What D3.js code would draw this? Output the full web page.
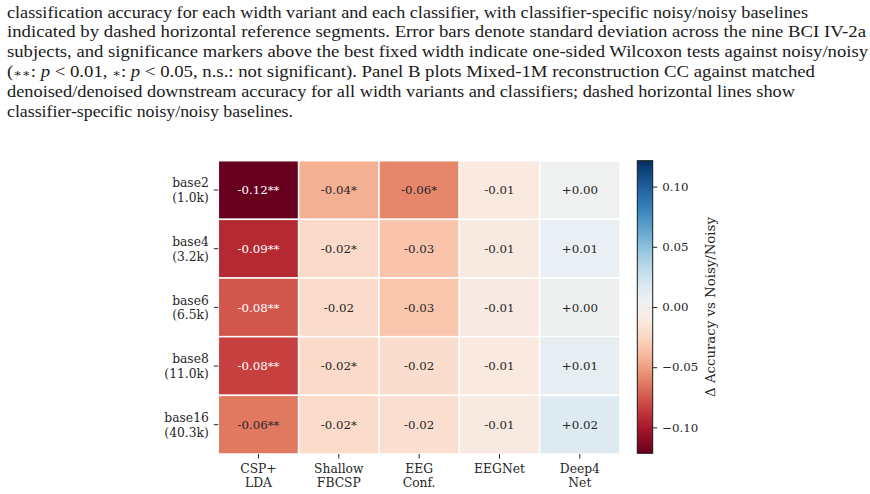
<!DOCTYPE html>
<html>
<head>
<meta charset="utf-8">
<script src="https://cdn.jsdelivr.net/npm/d3@7"></script>
<style>
  body { margin: 0; background: #fff; }
  svg { display: block; }
</style>
</head>
<body>
<script>
// rows = width variants, columns = classifiers
var widths = ["base2", "base4", "base6", "base8", "base16"];
var paramCounts = ["(1.0k)", "(3.2k)", "(6.5k)", "(11.0k)", "(40.3k)"];
var classifiers = [["CSP+", "LDA"], ["Shallow", "FBCSP"], ["EEG", "Conf."], ["EEGNet"], ["Deep4", "Net"]];

// delta accuracy vs noisy/noisy, one array per classifier (top to bottom)
var cspLda  = [-0.1215, -0.093, -0.076, -0.084, -0.064];
var shallow = [-0.043, -0.022, -0.021, -0.022, -0.021];
var eegConf = [-0.059, -0.034, -0.033, -0.020, -0.019];
var eegnet  = [-0.011, -0.010, -0.009, -0.011, -0.010];
var deep4   = [0.003, 0.008, 0.004, 0.009, 0.016];

// wilcoxon markers
var sigCsp     = ["**", "**", "**", "**", "**"];
var sigShallow = ["*", "*", "", "*", "*"];
var sigConf    = ["*", "", "", "", ""];
var sigEegnet  = ["", "", "", "", ""];
var sigDeep4   = ["", "", "", "", ""];

var cbTicks = [-0.10, -0.05, 0.00, 0.05, 0.10];

var captionLines = [
  {t: "classification accuracy for each width variant and each classifier, with classifier-specific noisy/noisy baselines", w: 801},
  {t: "indicated by dashed horizontal reference segments. Error bars denote standard deviation across the nine BCI IV-2a", w: 859},
  {t: "subjects, and significance markers above the best fixed width indicate one-sided Wilcoxon tests against noisy/noisy", w: 861},
  {t: null, w: 808},
  {t: "denoised/denoised downstream accuracy for all width variants and classifiers; dashed horizontal lines show", w: 788},
  {t: "classifier-specific noisy/noisy baselines.", w: 286}
];

var columns = [cspLda, shallow, eegConf, eegnet, deep4];
var sigs = [sigCsp, sigShallow, sigConf, sigEegnet, sigDeep4];

var cells = [];
for (var c = 0; c < columns.length; c++) {
  for (var r = 0; r < widths.length; r++) {
    cells.push({row: widths[r], col: c, value: columns[c][r], sig: sigs[c][r]});
  }
}

var width = 870, height = 494;
var svg = d3.select("body").append("svg")
  .attr("width", width)
  .attr("height", height);

// caption
var cap = svg.append("g")
  .attr("font-family", "'Liberation Serif', 'Times New Roman', serif")
  .attr("font-size", 16)
  .attr("fill", "#1a1a1a");

captionLines.forEach(function(line, i) {
  var t = cap.append("text")
    .attr("x", 7)
    .attr("y", 17.5 + i * 19.85)
    .attr("textLength", line.w)
    .attr("lengthAdjust", "spacingAndGlyphs");
  if (line.t) {
    t.text(line.t);
  } else {
    t.append("tspan").text("(");
    t.append("tspan").attr("font-size", 11).attr("font-family", "'DejaVu Serif', serif").text("\u2217\u2217");
    t.append("tspan").text(": ");
    t.append("tspan").attr("font-style", "italic").text("p");
    t.append("tspan").text(" < 0.01, ");
    t.append("tspan").attr("font-size", 11).attr("font-family", "'DejaVu Serif', serif").text("\u2217");
    t.append("tspan").text(": ");
    t.append("tspan").attr("font-style", "italic").text("p");
    t.append("tspan").text(" < 0.05, n.s.: not significant). Panel B plots Mixed-1M reconstruction CC against matched");
  }
});

// heatmap
var x0 = 218.3, x1 = 620, y0 = 160.7, y1 = 454;

var x = d3.scaleBand()
  .domain(d3.range(classifiers.length))
  .range([x0, x1]);

var y = d3.scaleBand()
  .domain(widths)
  .range([y0, y1]);

var vmax = d3.max(cells, function(d) { return Math.abs(d.value); });
var color = d3.scaleDiverging(d3.interpolateRdBu).domain([-vmax, 0, vmax]);

var chart = svg.append("g").attr("font-family", "'DejaVu Serif', serif");

chart.selectAll("rect.cell")
  .data(cells)
  .enter().append("rect")
  .attr("class", "cell")
  .attr("x", function(d) { return x(d.col); })
  .attr("y", function(d) { return y(d.row); })
  .attr("width", x.bandwidth())
  .attr("height", y.bandwidth())
  .attr("fill", function(d) { return color(d.value); })
  .attr("stroke", "#fff")
  .attr("stroke-width", 1.5);

function fmt(v) {
  return (v < 0 ? "-" : "+") + Math.abs(v).toFixed(2);
}

chart.selectAll("text.annot")
  .data(cells)
  .enter().append("text")
  .attr("class", "annot")
  .attr("x", function(d) { return x(d.col) + x.bandwidth() / 2; })
  .attr("y", function(d) { return y(d.row) + y.bandwidth() / 2 + 4.3; })
  .attr("text-anchor", "middle")
  .attr("font-size", 11.8)
  .attr("fill", function(d) { return Math.abs(d.value) > 0.6 * vmax ? "#fff" : "#262626"; })
  .text(function(d) { return fmt(d.value) + d.sig; });

// y ticks
var yt = chart.selectAll("g.ytick")
  .data(widths)
  .enter().append("g")
  .attr("class", "ytick")
  .attr("transform", function(d) { return "translate(0," + (y(d) + y.bandwidth() / 2) + ")"; });

yt.append("line")
  .attr("x1", x0 - 4.5).attr("x2", x0)
  .attr("stroke", "#262626").attr("stroke-width", 1);

yt.append("text")
  .attr("x", x0 - 9.5)
  .attr("text-anchor", "end")
  .attr("font-size", 12.3)
  .attr("fill", "#262626")
  .each(function(d, i) {
    d3.select(this).append("tspan").attr("x", x0 - 9.5).attr("y", -2.6).text(d);
    d3.select(this).append("tspan").attr("x", x0 - 9.5).attr("y", 12).text(paramCounts[i]);
  });

// x ticks
var xt = chart.selectAll("g.xtick")
  .data(classifiers)
  .enter().append("g")
  .attr("class", "xtick")
  .attr("transform", function(d, i) { return "translate(" + (x(i) + x.bandwidth() / 2) + ",0)"; });

xt.append("line")
  .attr("y1", y1).attr("y2", y1 + 4.5)
  .attr("stroke", "#262626").attr("stroke-width", 1);

xt.append("text")
  .attr("text-anchor", "middle")
  .attr("font-size", 12.3)
  .attr("fill", "#262626")
  .each(function(d) {
    var t = d3.select(this);
    d.forEach(function(s, k) {
      t.append("tspan").attr("x", 0).attr("y", 473 + k * 14).text(s);
    });
  });

// colorbar
var cbX = 637.3, cbW = 15.4, cbTop = 160.7, cbBot = 453.3;
var cbScale = d3.scaleLinear().domain([-vmax, vmax]).range([cbBot, cbTop]);

var grad = svg.append("defs").append("linearGradient")
  .attr("id", "cbgrad")
  .attr("x1", 0).attr("y1", 1).attr("x2", 0).attr("y2", 0);
d3.range(0, 1.0001, 0.02).forEach(function(t) {
  grad.append("stop")
    .attr("offset", t)
    .attr("stop-color", color(-vmax + t * 2 * vmax));
});

chart.append("rect")
  .attr("x", cbX).attr("y", cbTop)
  .attr("width", cbW).attr("height", cbBot - cbTop)
  .attr("fill", "url(#cbgrad)")
  .attr("stroke", "#1a1a1a")
  .attr("stroke-width", 1);

var cbAxis = d3.axisRight(cbScale)
  .tickValues(cbTicks)
  .tickFormat(d3.format(".2f"))
  .tickSize(4.5)
  .tickPadding(5);

var cbg = chart.append("g")
  .attr("transform", "translate(" + (cbX + cbW) + ",0)")
  .call(cbAxis);
cbg.select(".domain").remove();
cbg.selectAll(".tick line").attr("stroke", "#262626");
cbg.selectAll(".tick text")
  .attr("font-family", "'DejaVu Serif', serif")
  .attr("font-size", 11.8)
  .attr("fill", "#262626");

chart.append("text")
  .attr("transform", "translate(714.5," + ((cbTop + cbBot) / 2) + ") rotate(-90)")
  .attr("text-anchor", "middle")
  .attr("font-size", 13.3)
  .attr("fill", "#262626")
  .text("\u0394 Accuracy vs Noisy/Noisy");
</script>
</body>
</html>
